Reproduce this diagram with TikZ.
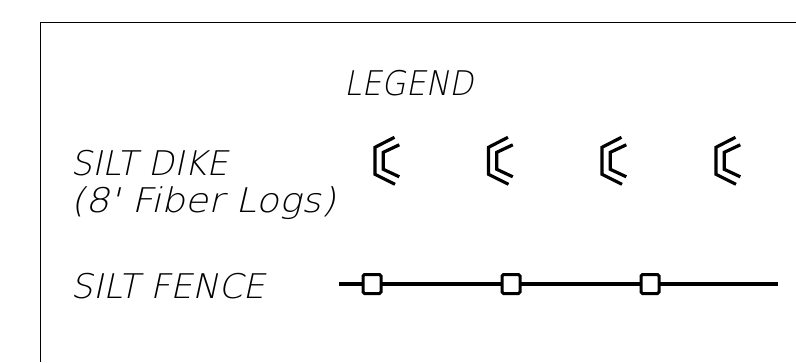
\documentclass[tikz,border=0pt]{standalone}
\usepackage{fontspec}
\setmainfont{Liberation Sans}
\newfontfamily\cadfont{DejaVu Sans ExtraLight}[FakeSlant=0.21]
\newcommand\cadtext[2]{\resizebox{#1}{\height}{\cadfont #2}}
\begin{document}
\begin{tikzpicture}[x=1pt,y=-1pt,
  lbl/.style={anchor=base west,inner sep=0pt,font=\fontsize{34}{38}\selectfont},
  frameline/.style={line width=1.8pt},
  dikeline/.style={line width=3.2pt,line join=miter},
  fenceline/.style={line width=3.4pt},
  post/.style={draw,fill=white,line width=3pt,rounded corners=1.5pt,minimum width=18pt,minimum height=19pt,inner sep=0pt},
  dike/.pic={
    \draw[dikeline] (19.5,-23.5) -- (0,-13.5) -- (0,13.5) -- (20,23.5);
    \draw[dikeline] (24.3,-16) -- (8.3,-8.5) -- (8.3,8.5) -- (24.3,16);
  }]
\useasboundingbox (0,0) rectangle (796,362);
% frame
\coordinate (fb) at (40.5,362);
\coordinate (fc) at (40.5,22.5);
\coordinate (fr) at (796,22.5);
\draw[frameline] (fb) -- (fc) -- (fr);
% texts
\node[lbl] (legend) at (344,95.5) {\cadtext{129pt}{LEGEND}};
\node[lbl] (dike) at (70.5,175.5) {\cadtext{157pt}{SILT DIKE}};
\node[lbl] (logs) at (70.5,212) {\cadtext{265pt}{(8\textquotesingle\ Fiber Logs)}};
\node[lbl] (fence) at (70.5,298.5) {\cadtext{194pt}{SILT FENCE}};
% dike symbols
\pic at (375,160.8) {dike};
\pic at (488.5,160.8) {dike};
\pic at (602,160.8) {dike};
\pic at (716,160.8) {dike};
% silt fence
\coordinate (fs) at (339,284);
\coordinate (fe) at (778,284);
\draw[fenceline] (fs) -- (fe);
\node[post] (p1) at (372,284) {};
\node[post] (p2) at (511,284) {};
\node[post] (p3) at (650,284) {};
\end{tikzpicture}
\end{document}
